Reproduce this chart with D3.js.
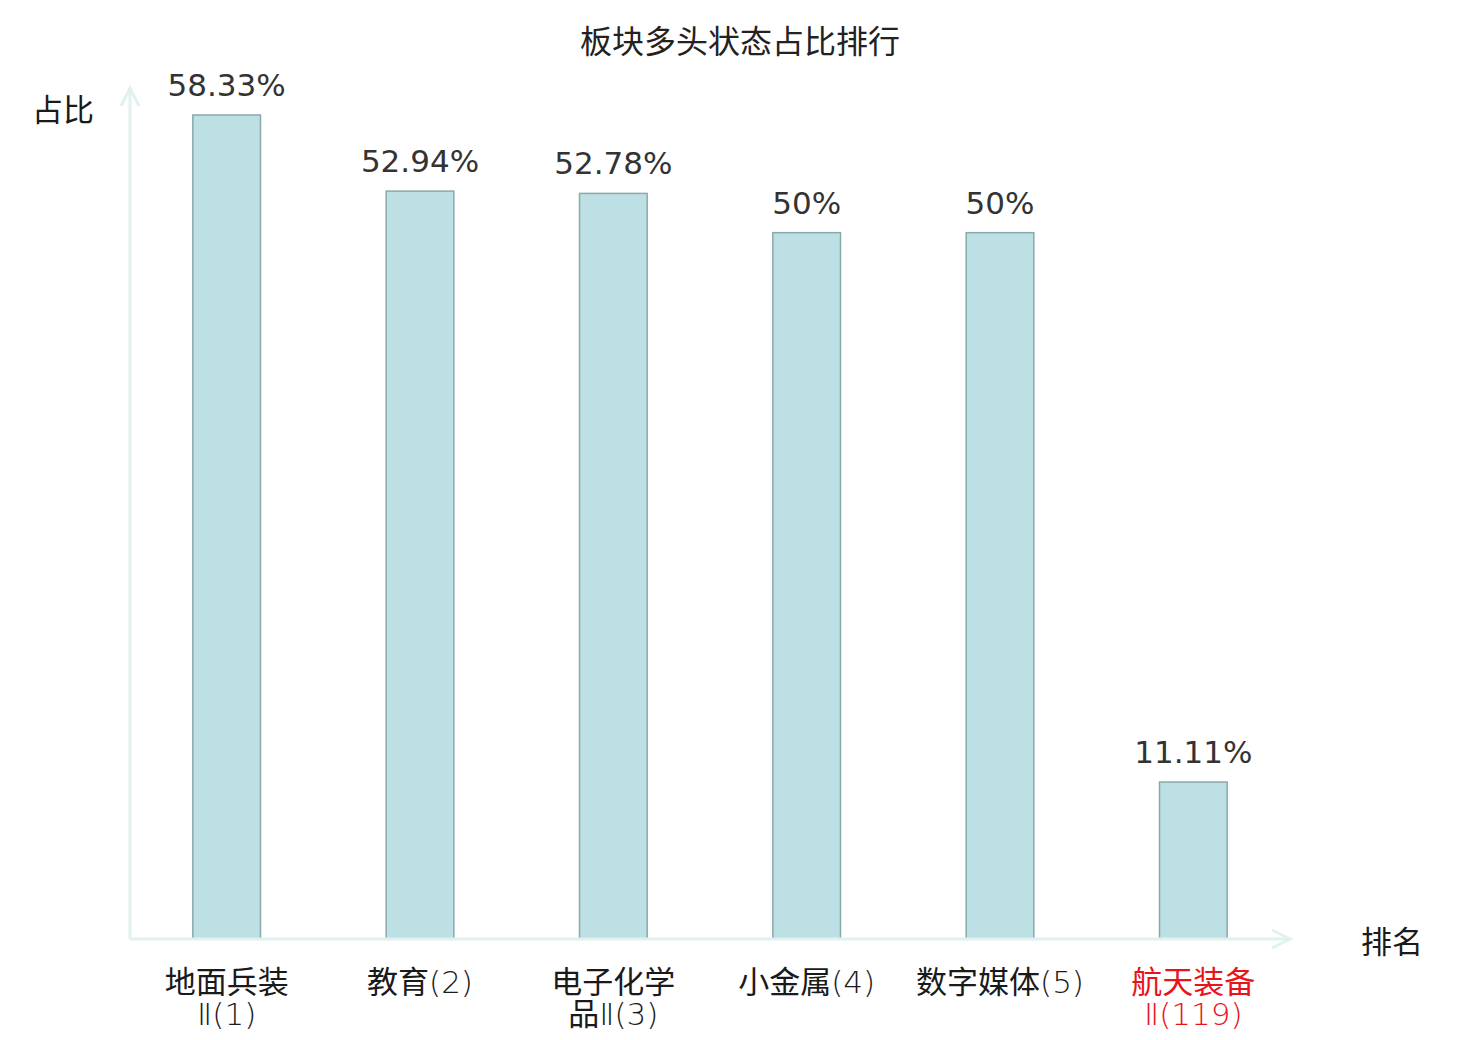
<!DOCTYPE html>
<html>
  <head>
    <meta charset="utf-8">
    <title>板块多头状态占比排行</title>
    <script src="https://d3js.org/d3.v7.min.js"></script>
    <style>
      body { margin: 0; background: #ffffff; }
    </style>
  </head>
  <body>
    <svg width="1480" height="1040"></svg>
    <script>
      // 数据
      var categories = ["地面兵装Ⅱ(1)", "教育(2)", "电子化学品Ⅱ(3)", "小金属(4)", "数字媒体(5)", "航天装备Ⅱ(119)"];
      var values = [58.33, 52.94, 52.78, 50, 50, 11.11];
      var valueLabels = ["58.33%", "52.94%", "52.78%", "50%", "50%", "11.11%"];
      var highlightIndex = 5;   // 当前板块 (红色)

      var margin = { top: 115, right: 190, bottom: 101, left: 130 },
          width = 1480 - margin.left - margin.right,
          height = 1040 - margin.top - margin.bottom;

      var svg = d3.select("svg")
          .append("g")
          .attr("transform", "translate(" + margin.left + "," + margin.top + ")");

      var xScale = d3.scaleBand()
          .range([0, width])
          .padding(0)
          .domain(categories);

      var yScale = d3.scaleLinear()
          .range([height, 0])
          .domain([0, d3.max(values)]);

      var barWidth = xScale.bandwidth() * 0.35;
      var axisColor = "#dff2ef";
      var cjkFont = "'Noto Sans CJK SC', sans-serif";

      // 标题
      d3.select("svg").append("text")
          .attr("x", 740)
          .attr("y", 53)
          .attr("text-anchor", "middle")
          .attr("fill", "#222")
          .style("font-family", cjkFont)
          .style("font-size", "32px")
          .text("板块多头状态占比排行");

      // 柱子
      svg.selectAll(".bar")
          .data(values)
          .enter()
          .append("rect")
          .attr("class", "bar")
          .attr("x", function(d, i) { return xScale(categories[i]) + (xScale.bandwidth() - barWidth) / 2; })
          .attr("y", function(d) { return yScale(d); })
          .attr("width", barWidth)
          .attr("height", function(d) { return height - yScale(d); })
          .attr("fill", "#bce0e3")
          .attr("stroke", "#8aa9a9")
          .attr("stroke-width", 1.5);

      // 坐标轴 (带箭头)
      var axes = svg.append("g").attr("class", "axes")
          .attr("fill", "none")
          .attr("stroke", axisColor)
          .attr("stroke-width", 3);

      axes.append("line")
          .attr("x1", 0).attr("y1", height)
          .attr("x2", width).attr("y2", height);
      axes.append("path")
          .attr("d", "M" + (width - 18) + "," + (height - 9) + "L" + width + "," + height + "L" + (width - 18) + "," + (height + 9));

      axes.append("line")
          .attr("x1", 0).attr("y1", height)
          .attr("x2", 0).attr("y2", -27);
      axes.append("path")
          .attr("d", "M-9," + (-27 + 18) + "L0,-27L9," + (-27 + 18));

      // 数值标签
      svg.selectAll(".value-label")
          .data(values)
          .enter()
          .append("text")
          .attr("class", "value-label")
          .attr("x", function(d, i) { return xScale(categories[i]) + xScale.bandwidth() / 2; })
          .attr("y", function(d) { return yScale(d) - 19; })
          .attr("text-anchor", "middle")
          .attr("fill", "#333")
          .style("font-family", "'DejaVu Sans', sans-serif")
          .style("font-size", "31px")
          .text(function(d, i) { return valueLabels[i]; });

      // 分类标签 (长名称折行)
      function splitName(name) {
        var chars = Array.from(name);
        if (chars.length > 7) return [chars.slice(0, 4).join(""), chars.slice(4).join("")];
        return [name];
      }

      categories.forEach(function(d, i) {
        var cx = xScale(d) + xScale.bandwidth() / 2;
        splitName(d).forEach(function(line, k) {
          var t = svg.append("text")
            .attr("class", "cat-label")
            .attr("x", cx)
            .attr("y", height + 54 + k * 32)
            .attr("text-anchor", "middle")
            .attr("fill", i === highlightIndex ? "#e8141a" : "#1a1a1a")
            .style("font-size", "31px");
          // 汉字用常规字重, 数字和括号用细体
          line.match(/[\u4e00-\u9fff]+|[^\u4e00-\u9fff]+/g).forEach(function(run) {
            var cjk = /[\u4e00-\u9fff]/.test(run);
            t.append("tspan")
              .style("font-family", cjk ? cjkFont : "'DejaVu Sans', sans-serif")
              .style("font-weight", cjk ? "400" : "200")
              .text(run);
          });
        });
      });

      // 轴名称
      d3.select("svg").append("text")
          .attr("x", 63)
          .attr("y", 121)
          .attr("text-anchor", "middle")
          .attr("fill", "#1a1a1a")
          .style("font-family", cjkFont)
          .style("font-size", "31px")
          .text("占比");

      d3.select("svg").append("text")
          .attr("x", 1392)
          .attr("y", 953)
          .attr("text-anchor", "middle")
          .attr("fill", "#1a1a1a")
          .style("font-family", cjkFont)
          .style("font-size", "31px")
          .text("排名");
    </script>
  </body>
</html>
